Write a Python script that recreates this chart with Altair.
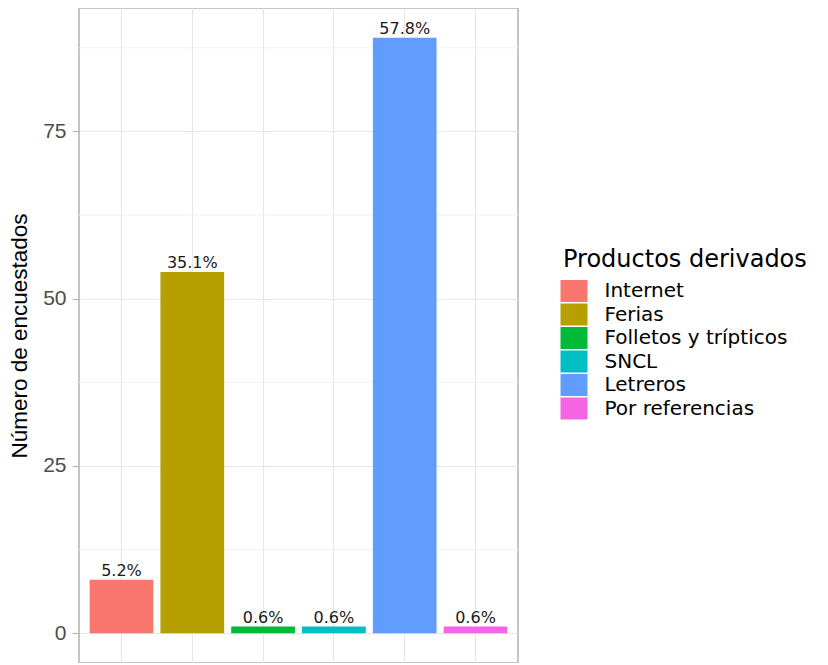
import altair as alt
import pandas as pd

categorias = ["Internet", "Ferias", "Folletos y trípticos", "SNCL", "Letreros", "Por referencias"]
conteos = [8, 54, 1, 1, 89, 1]
porcentajes = ["5.2%", "35.1%", "0.6%", "0.6%", "57.8%", "0.6%"]
colores = ["#F8766D", "#B79F00", "#00BA38", "#00BFC4", "#619CFF", "#F564E3"]
y_ticks = [0, 25, 50, 75]
y_minor = [12.5, 37.5, 62.5, 87.5]
y_dominio = [-4.45, 93.45]

df = pd.DataFrame({"cat": categorias, "n": conteos, "pct": porcentajes})
df_minor = pd.DataFrame({"v": y_minor})

xscale = alt.Scale(domain=categorias, paddingInner=0.1, paddingOuter=0.15)
yscale = alt.Scale(domain=y_dominio, nice=False, zero=False)

minor = alt.Chart(df_minor).mark_rule(color="#f0f0f0", strokeWidth=1).encode(
    y=alt.Y("v:Q", scale=yscale)
)

bars = alt.Chart(df).mark_bar().encode(
    x=alt.X("cat:N", sort=categorias, scale=xscale,
            axis=alt.Axis(title=None, labels=False, ticks=False, domain=False,
                          grid=True, bandPosition=0.5, gridColor="#e6e6e6", gridWidth=1.1)),
    y=alt.Y("n:Q", scale=yscale,
            axis=alt.Axis(values=y_ticks, title="Número de encuestados", domain=False,
                          grid=True, gridColor="#e6e6e6", gridWidth=1.1,
                          tickColor="#b3b3b3", tickSize=7, tickWidth=1.1,
                          labelColor="#4d4d4d", labelFontSize=21, labelFont="Liberation Sans",
                          labelPadding=6, titleFont="Liberation Sans", titleFontSize=22.5,
                          titleFontWeight="normal", titleColor="#000000", titlePadding=11)),
    y2=alt.datum(0),
    color=alt.Color("cat:N", scale=alt.Scale(domain=categorias, range=colores),
                    legend=alt.Legend(title="Productos derivados", orient="none",
                                      legendX=484, legendY=240, padding=0,
                                      titleFont="DejaVu Sans", titleFontSize=24,
                                      titleFontWeight="normal", titleColor="#000000",
                                      titlePadding=8, titleLimit=400,
                                      labelFont="DejaVu Sans", labelFontSize=20,
                                      labelColor="#000000", labelOffset=19.5,
                                      symbolType="M-1.227,-1H1.227V1H-1.227Z",
                                      symbolSize=484, symbolStrokeWidth=0,
                                      symbolOpacity=1, rowPadding=1.5,
                                      labelLimit=400)),
)

labels = alt.Chart(df).mark_text(font="DejaVu Sans", fontSize=16, color="#1a1a1a",
                                 baseline="alphabetic", dy=-4).encode(
    x=alt.X("cat:N", sort=categorias, scale=xscale),
    y=alt.Y("n:Q", scale=yscale),
    text="pct:N",
)

chart = alt.layer(minor, bars, labels).properties(
    width=439, height=655,
    autosize=alt.AutoSizeParams(type="none"),
    padding={"left": 71, "top": 0, "right": 302, "bottom": 0},
).configure_view(stroke="#b3b3b3", strokeWidth=1.5)

chart.save("out.html", embed_options={"renderer": "svg", "actions": False})
